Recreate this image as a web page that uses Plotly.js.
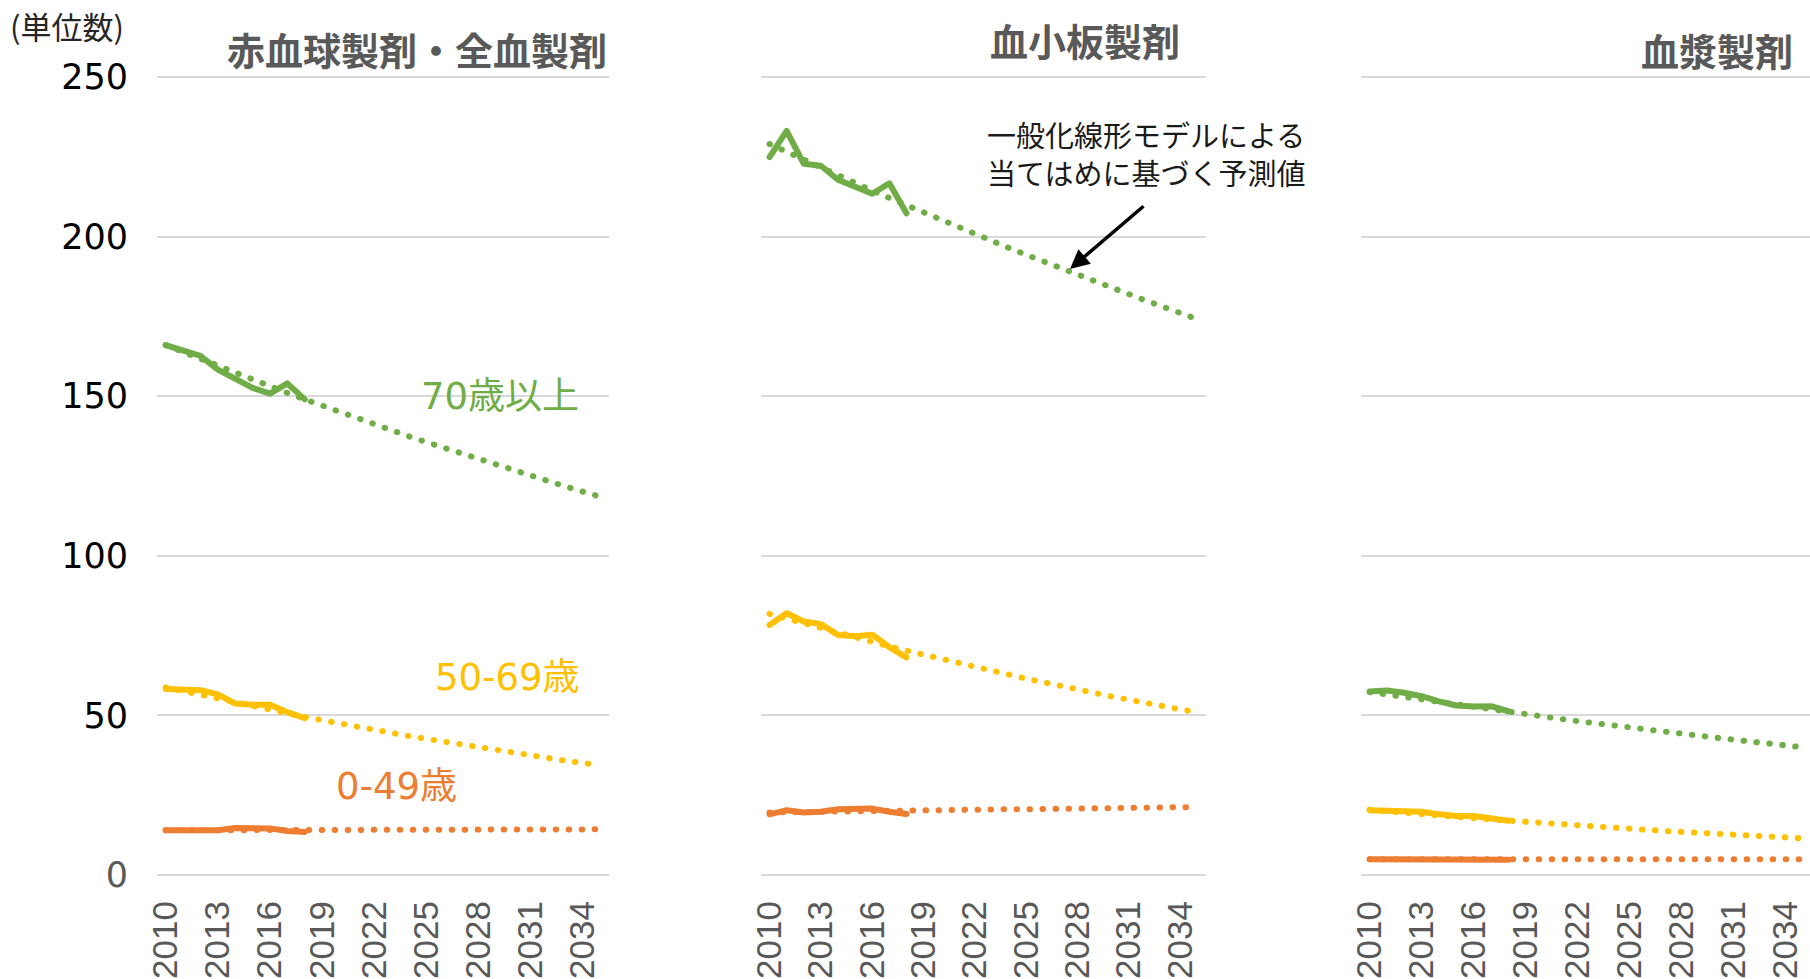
<!DOCTYPE html>
<html>
<head>
<meta charset="utf-8">
<script src="https://cdn.plot.ly/plotly-3.0.1.min.js"></script>
<style>
  html, body { margin: 0; padding: 0; background: #fff; }
  #chart { width: 1810px; height: 979px; }
  path.js-line { stroke-linecap: round !important; stroke-linejoin: round !important; }
</style>
</head>
<body>
<div id="chart"></div>
<script>
// ---- data ----
const years = [2010,2011,2012,2013,2014,2015,2016,2017,2018,2019,2020,2021,2022,2023,2024,2025,2026,2027,2028,2029,2030,2031,2032,2033,2034,2035];
const actualYears = [2010,2011,2012,2013,2014,2015,2016,2017,2018];
const tickYears = [2010,2013,2016,2019,2022,2025,2028,2031,2034];
const yTicks = [0,50,100,150,200,250];

const panelTitles = ['赤血球製剤・全血製剤', '血小板製剤', '血漿製剤'];
const groupLabels = ['70歳以上', '50-69歳', '0-49歳'];

// 赤血球製剤・全血製剤
const rbc70Actual   = [166.0,164.4,162.6,158.3,155.2,152.6,150.8,154.0,149.0];
const rbc70Fit      = [166.0,163.8,161.6,159.4,157.3,155.2,153.1,151.0,149.0,147.0,145.0,143.1,141.2,139.3,137.4,135.6,133.8,132.0,130.2,128.5,126.7,125.0,123.4,121.7,120.1,118.5];
const rbc5069Actual = [58.3,57.9,57.9,56.6,53.7,53.3,53.3,51.0,49.1];
const rbc5069Fit    = [58.8,57.6,56.3,55.1,53.9,52.8,51.7,50.6,49.5,48.5,47.4,46.4,45.4,44.5,43.5,42.6,41.7,40.8,39.9,39.1,38.2,37.4,36.6,35.8,35.1,34.4];
const rbc049Actual  = [14.0,14.0,13.9,14.0,14.7,14.7,14.6,13.8,13.5];
const rbc049Fit     = [14.0,14.0,14.0,14.0,14.1,14.1,14.1,14.1,14.1,14.1,14.1,14.1,14.2,14.2,14.2,14.2,14.2,14.2,14.2,14.2,14.3,14.3,14.3,14.3,14.3,14.3];

// 血小板製剤
const plt70Actual   = [224.9,233.1,222.8,222.2,217.8,215.5,213.4,216.7,207.3];
const plt70Fit      = [229.0,226.5,224.0,221.6,219.2,216.8,214.4,212.1,209.8,207.5,205.2,203.0,200.8,198.6,196.4,194.3,192.2,190.1,188.0,186.0,183.9,181.9,179.9,178.0,176.0,174.1];
const plt5069Actual = [78.3,82.0,79.4,78.6,75.2,74.8,75.3,71.4,68.2];
const plt5069Fit    = [81.8,80.3,78.8,77.3,75.8,74.4,73.0,71.6,70.3,69.0,67.7,66.4,65.1,63.9,62.7,61.5,60.4,59.2,58.1,57.0,55.9,54.9,53.8,52.8,51.8,50.9];
const plt049Actual  = [19.0,20.3,19.6,19.8,20.6,20.8,20.8,19.8,19.1];
const plt049Fit     = [19.6,19.7,19.7,19.8,19.9,19.9,20.0,20.1,20.1,20.2,20.3,20.3,20.4,20.5,20.6,20.6,20.7,20.8,20.8,20.9,21.0,21.0,21.1,21.2,21.2,21.3];

// 血漿製剤
const ffp70Actual   = [57.5,57.8,57.1,56.0,54.4,53.1,52.8,52.9,51.3];
const ffp70Fit      = [57.3,56.5,55.7,54.9,54.1,53.3,52.5,51.8,51.1,50.3,49.6,48.9,48.2,47.5,46.9,46.2,45.5,44.9,44.3,43.6,43.0,42.4,41.8,41.2,40.6,40.0];
const ffp5069Actual = [20.3,20.2,20.2,19.8,19.0,18.5,18.5,17.7,17.0];
const ffp5069Fit    = [20.4,19.9,19.5,19.0,18.6,18.2,17.8,17.4,17.0,16.6,16.2,15.8,15.5,15.1,14.8,14.5,14.1,13.8,13.5,13.2,12.9,12.6,12.3,12.0,11.8,11.5];
const ffp049Actual  = [4.9,4.9,4.9,4.9,5.0,5.1,5.0,4.9,4.8];
const ffp049Fit     = [4.9,4.9,4.9,4.9,4.9,4.9,4.9,4.9,4.9,4.9,4.9,4.9,4.9,4.9,4.9,4.9,4.9,4.9,4.9,4.9,4.9,4.9,4.9,4.9,4.9,4.9];

// ---- styling ----
const GREEN = '#70AD47', YELLOW = '#FFC000', ORANGE = '#ED7D31';
const W = 1810, H = 979;
const JP = '"Noto Sans CJK JP", "Noto Sans", sans-serif';
const MIX = '"DejaVu Sans", "Noto Sans CJK JP", sans-serif';
const NUM = '"DejaVu Sans", "Liberation Sans", sans-serif';

const panels = [
  {ax: '', fits: [rbc70Fit, rbc5069Fit, rbc049Fit], acts: [rbc70Actual, rbc5069Actual, rbc049Actual]},
  {ax: '2', fits: [plt70Fit, plt5069Fit, plt049Fit], acts: [plt70Actual, plt5069Actual, plt049Actual]},
  {ax: '3', fits: [ffp70Fit, ffp5069Fit, ffp049Fit], acts: [ffp70Actual, ffp5069Actual, ffp049Actual]}
];
const colors = [GREEN, YELLOW, ORANGE];

const traces = [];
panels.forEach(p => {
  for (let i = 0; i < 3; i++) {
    traces.push({
      x: years, y: p.fits[i], xaxis: 'x' + p.ax, yaxis: 'y' + p.ax,
      type: 'scatter', mode: 'lines', hoverinfo: 'skip', showlegend: false,
      line: {color: colors[i], width: 6, dash: '0.5px,12.5px'}
    });
  }
  for (let i = 0; i < 3; i++) {
    traces.push({
      x: actualYears, y: p.acts[i], xaxis: 'x' + p.ax, yaxis: 'y' + p.ax,
      type: 'scatter', mode: 'lines', hoverinfo: 'skip', showlegend: false,
      line: {color: colors[i], width: 6}
    });
  }
});

// plot area: value 0 at y=875px, value 250 at y=77px (3.192 px per unit); range extended to 252
const xDomains = [[157 / W, 609 / W], [761 / W, 1206 / W], [1361 / W, 1]];
const yDomain = [1 - 875 / H, 1 - 70.6 / H];

function xAxis(i) {
  return {
    domain: xDomains[i], anchor: 'y' + (i ? i + 1 : ''),
    range: i === 2 ? [2009.5, 2035.4] : [2009.5, 2035.5],
    tickmode: 'array', tickvals: tickYears, ticktext: tickYears.map(String),
    tickangle: -90, ticks: '', ticklabelstandoff: 18,
    tickfont: {family: '"Liberation Sans", sans-serif', size: 35, color: '#595959'},
    showgrid: false, zeroline: false, showline: false, fixedrange: true
  };
}
function yAxis(i) {
  return {
    domain: yDomain, anchor: 'x' + (i ? i + 1 : ''),
    range: [0, 252],
    tickmode: 'array', tickvals: yTicks,
    ticktext: yTicks.map(v => v === 0 ? '<span style="color:#595959">0</span>' : String(v)),
    showticklabels: i === 0, ticks: '', ticklabelstandoff: 28,
    tickfont: {family: NUM, size: 35, color: '#000000'},
    showgrid: true, gridcolor: '#D9D9D9', gridwidth: 2,
    zeroline: true, zerolinecolor: '#D9D9D9', zerolinewidth: 2,
    showline: false, fixedrange: true
  };
}

const ann = [];
const titleFont = {family: JP, size: 38, color: '#595959', weight: 'bold'};
ann.push({xref: 'paper', yref: 'paper', x: 609 / W, y: 1 - 48 / H, xanchor: 'right', yanchor: 'middle',
  text: '<b>' + panelTitles[0] + '</b>', showarrow: false, font: titleFont});
ann.push({xref: 'paper', yref: 'paper', x: 1085 / W, y: 1 - 40 / H, xanchor: 'center', yanchor: 'middle',
  text: '<b>' + panelTitles[1] + '</b>', showarrow: false, font: titleFont});
ann.push({xref: 'paper', yref: 'paper', x: 1795 / W, y: 1 - 50 / H, xanchor: 'right', yanchor: 'middle',
  text: '<b>' + panelTitles[2] + '</b>', showarrow: false, font: titleFont});
ann.push({xref: 'paper', yref: 'paper', x: 8 / W, y: 1 - 25 / H, xanchor: 'left', yanchor: 'middle',
  text: '(単位数)', showarrow: false, font: {family: JP, size: 31, color: '#262626'}});
ann.push({xref: 'paper', yref: 'paper', x: 581 / W, y: 1 - 396 / H, xanchor: 'right', yanchor: 'middle',
  text: groupLabels[0], showarrow: false, font: {family: MIX, size: 37, color: GREEN}});
ann.push({xref: 'paper', yref: 'paper', x: 582 / W, y: 1 - 677 / H, xanchor: 'right', yanchor: 'middle',
  text: groupLabels[1], showarrow: false, font: {family: MIX, size: 37, color: YELLOW}});
ann.push({xref: 'paper', yref: 'paper', x: 459 / W, y: 1 - 786 / H, xanchor: 'right', yanchor: 'middle',
  text: groupLabels[2], showarrow: false, font: {family: MIX, size: 37, color: ORANGE}});
ann.push({xref: 'paper', yref: 'paper', x: 985 / W, y: 1 - 153 / H, xanchor: 'left', yanchor: 'middle', align: 'left',
  text: '一般化線形モデルによる<br>当てはめに基づく予測値', showarrow: false,
  font: {family: JP, size: 29, color: '#1a1a1a'}});
ann.push({xref: 'paper', yref: 'paper', x: 1070 / W, y: 1 - 269 / H, text: '', showarrow: true,
  ax: 75, ay: -64, arrowhead: 2, arrowsize: 1.1, arrowwidth: 3.5, arrowcolor: '#000000', standoff: 0});

const layout = {
  width: W, height: H, autosize: false,
  margin: {l: 0, r: 0, t: 0, b: 0, pad: 0},
  paper_bgcolor: '#ffffff', plot_bgcolor: 'rgba(0,0,0,0)',
  showlegend: false,
  xaxis: xAxis(0), xaxis2: xAxis(1), xaxis3: xAxis(2),
  yaxis: yAxis(0), yaxis2: yAxis(1), yaxis3: yAxis(2),
  annotations: ann
};

Plotly.newPlot('chart', traces, layout, {displayModeBar: false, staticPlot: true});
</script>
</body>
</html>
